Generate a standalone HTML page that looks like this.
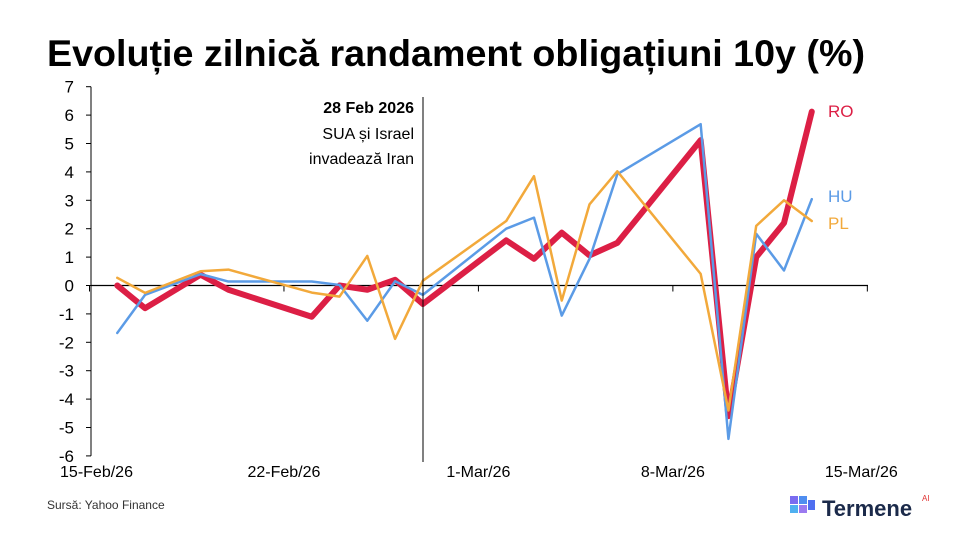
<!DOCTYPE html>
<html><head><meta charset="utf-8"><style>
body{margin:0;background:#fff;width:960px;height:540px;overflow:hidden;font-family:"Liberation Sans",sans-serif}
</style></head><body>
<svg width="960" height="540" font-family="Liberation Sans, sans-serif">
<text x="47" y="66" font-size="37" font-weight="bold" fill="#000" textLength="818" lengthAdjust="spacingAndGlyphs">Evoluție zilnică randament obligațiuni 10y (%)</text>
<g id="axes"></g><g id="series"></g>
<line x1="423" y1="97" x2="423" y2="462" stroke="#000" stroke-width="1"/>
<g font-size="16" text-anchor="end">
<text x="414" y="113" font-weight="bold">28 Feb 2026</text>
<text x="414" y="139">SUA și Israel</text>
<text x="414" y="164">invadează Iran</text></g>
<text x="828" y="117" font-size="17" fill="#dc1f45">RO</text>
<text x="828" y="202" font-size="17" fill="#5b9be6">HU</text>
<text x="828" y="229" font-size="17" fill="#f2a93b">PL</text>
<text x="47" y="509" font-size="12" fill="#333">Sursă: Yahoo Finance</text>
<g>
<rect x="790" y="496" width="8" height="8" fill="#7a6cf0"/><rect x="799" y="496" width="8" height="8" fill="#4f8ef0"/><rect x="790" y="505" width="8" height="8" fill="#4fb0f0"/><rect x="799" y="505" width="8" height="8" fill="#9b7af0"/><rect x="808" y="500" width="7" height="10" fill="#4f6ff0"/>
<text x="822" y="516" font-size="22" font-weight="bold" fill="#1b2a4a">Termene</text>
<text x="922" y="501" font-size="8" fill="#e03030">AI</text></g>
</svg>
<script>
const days=[1,2,4,5,8,9,10,11,12,15,16,17,18,19,22,23,24,25,26];
const ro=[0,-0.8,0.38,-0.15,-1.1,0,-0.15,0.2,-0.65,1.59,0.94,1.86,1.06,1.5,5.12,-4.6,1.0,2.2,6.12];
const hu=[-1.67,-0.33,0.4,0.14,0.14,0.02,-1.24,0.15,-0.33,2.0,2.39,-1.06,0.94,3.92,5.68,-5.4,1.82,0.53,3.04];
const pl=[0.27,-0.26,0.5,0.56,-0.25,-0.39,1.04,-1.88,0.17,2.27,3.85,-0.53,2.86,4.02,0.41,-4.4,2.1,3.0,2.27];
const yTicks=[7,6,5,4,3,2,1,0,-1,-2,-3,-4,-5,-6];
const xTickDays=[0,7,14,21,28];
const xTickLabels=["15-Feb/26","22-Feb/26","1-Mar/26","8-Mar/26","15-Mar/26"];
const X=d=>89.5+d*27.78, Y=v=>285.5-v*28.4;
const NS="http://www.w3.org/2000/svg";
const ax=document.getElementById('axes'), sr=document.getElementById('series');
function mk(t,a,p){const e=document.createElementNS(NS,t);for(const k in a)e.setAttribute(k,a[k]);p.appendChild(e);return e;}
const ya=mk('line',{x1:91,y1:Y(7),x2:91,y2:Y(-6),stroke:'#000','stroke-width':1},ax);


const xa=mk('line',{x1:91,y1:Y(0),x2:868,y2:Y(0),stroke:'#000','stroke-width':1.2},ax);


yTicks.forEach(v=>{mk('line',{x1:86,y1:Y(v),x2:91,y2:Y(v),stroke:'#000'},ax);
const t=mk('text',{x:74,y:Y(v)+6,'font-size':17,'text-anchor':'end'},ax);t.textContent=v;

});
xTickDays.forEach((d,i)=>{mk('line',{x1:X(d),y1:Y(0),x2:X(d),y2:Y(0)+6,stroke:'#000'},ax);
const t=mk('text',{x:X(d)+(i==0?7:i==4?-6:0),y:477,'font-size':16,'text-anchor':'middle'},ax);t.textContent=xTickLabels[i];

});
function line(vals,col,w,name){const p=mk('polyline',{points:vals.map((v,i)=>X(days[i])+','+Y(v)).join(' '),fill:'none',stroke:col,'stroke-width':w,'stroke-linejoin':'round','stroke-linecap':'round'},sr);

}
line(ro,'#dc1f45',6,'series-ro');
line(hu,'#5b9be6',2.5,'series-hu');
line(pl,'#f2a93b',2.5,'series-pl');
</script>
</body></html>
